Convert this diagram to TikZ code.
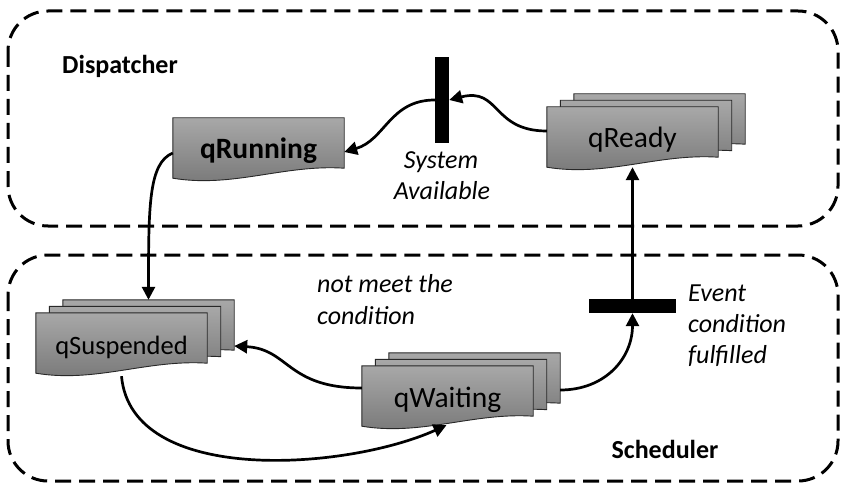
\documentclass[tikz,border=0pt]{standalone}
\usepackage{fontspec}
\setmainfont{Carlito}
\usetikzlibrary{arrows.meta,backgrounds}
\definecolor{boxtop}{RGB}{168,168,168}
\definecolor{boxbot}{RGB}{118,118,118}
\definecolor{boxline}{RGB}{40,40,40}
\newcommand\docpath[3]{([shift={(#2,#3)}]#1.south west) .. controls ([shift={(#2+60,#3+10)}]#1.south west) and ([shift={(#2-60,#3-14)}]#1.south east) .. ([shift={(#2,#3-10)}]#1.south east) -- ([shift={(#2,#3)}]#1.north east) -- ([shift={(#2,#3)}]#1.north west) -- cycle}
\tikzset{
  queuebox/.style={rectangle, minimum width=171pt, minimum height=60pt, inner sep=0pt, text height=22pt, text depth=0pt},
  lbl/.style={font=\fontsize{29.5}{31}\selectfont},
  boldlbl/.style={font=\bfseries\fontsize{29.5}{31}\selectfont},
  title/.style={font=\bfseries\fontsize{26}{28}\selectfont, inner sep=0pt},
  note/.style={font=\itshape\fontsize{26}{28}\selectfont, inner sep=0pt},
  docfill/.style={draw=boxline, line width=0.9pt, top color=boxtop, bottom color=boxbot},
  frame/.style={draw=black, line width=3pt, dash pattern=on 16pt off 8pt, rounded corners=40pt},
  bar/.style={fill=black, inner sep=0pt},
  flow/.style={draw=black, line width=2.7pt, -{Triangle[length=13pt,width=13pt]}},
}
\begin{document}
\begin{tikzpicture}[x=1pt,y=-1pt]
\useasboundingbox (0,0) rectangle (846,492);
% frames
\draw[frame] (8,11) rectangle (838,226);
\draw[frame] (8,255) rectangle (838,481);
% titles
\node[title, anchor=base] (dispatcher) at (120,74) {Dispatcher};
\node[title, anchor=base] (scheduler) at (665,458) {Scheduler};
% queue nodes
\node[queuebox, boldlbl] (qRunning) at (258.5,148) {qRunning};
\node[queuebox, lbl] (qReady) at (632.5,137) {qReady};
\node[queuebox, lbl, font=\fontsize{26.5}{28}\selectfont] (qSuspended) at (121.5,343) {qSuspended};
\node[queuebox, lbl] (qWaiting) at (447.5,396) {qWaiting};
% bars
\node[bar, minimum width=14pt, minimum height=86pt] (bar1) at (442,100) {};
\node[bar, minimum width=87pt, minimum height=14pt] (bar2) at (632.5,306) {};
% notes
\node[note, anchor=base] (sys1) at (441,168) {System};
\node[note, anchor=base] (sys2) at (442,199) {Available};
\node[note, anchor=base west] (notmeet1) at (317,292) {not meet the};
\node[note, anchor=base west] (notmeet2) at (317,324) {condition};
\node[note, anchor=base west] (event1) at (688,301) {Event};
\node[note, anchor=base west] (event2) at (688,332) {condition};
\node[note, anchor=base west] (event3) at (688,363) {fulfilled};
% shapes behind labels
\begin{scope}[on background layer]
  \path[docfill] \docpath{qRunning}{0}{0};
  \foreach \q in {qReady,qSuspended,qWaiting}{
    \path[docfill] \docpath{\q}{27}{-13};
    \path[docfill] \docpath{\q}{13.5}{-6.5};
    \path[docfill] \docpath{\q}{0}{0};
  }
\end{scope}
% connectors
\draw[flow] ([yshift=6pt]qReady.west) .. controls +(-55,0) and +(51,-13) .. (bar1.east);
\draw[flow] (bar1.west) .. controls +(-45,0) and +(41,-12) .. ([yshift=-4pt]qRunning.east);
\draw[flow] ([yshift=-5pt]qRunning.west) .. controls +(-24,10) and +(0,-95) .. ([shift={(27,-13)}]qSuspended.north);
\draw[flow] ([yshift=8pt]qWaiting.west) .. controls +(-75,0) and +(55,3) .. ([shift={(27,3)}]qSuspended.east);
\draw[flow] ([yshift=-3pt]qSuspended.south) .. controls +(10,110) and +(-100,45) .. ([shift={(-1,-1)}]qWaiting.south);
\draw[flow] ([shift={(27,-6)}]qWaiting.east) .. controls +(45,0) and +(0,45) .. (bar2.south);
\draw[flow] (bar2.north) -- (qReady.south);
\end{tikzpicture}
\end{document}
